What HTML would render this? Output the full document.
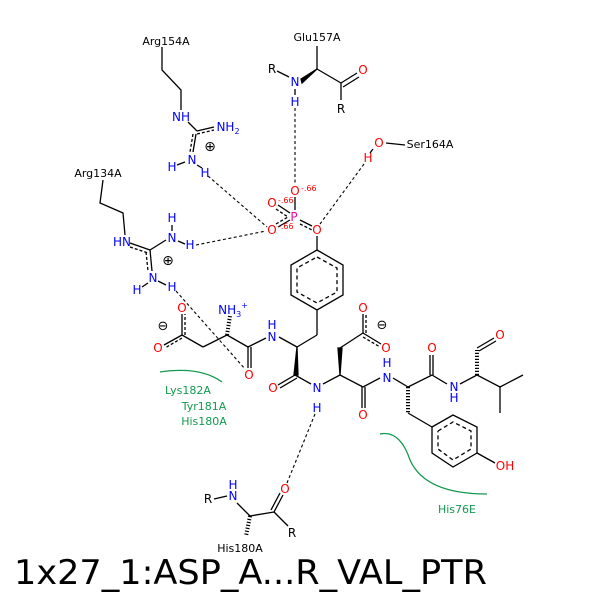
<!DOCTYPE html>
<html><head><style>
html,body{margin:0;padding:0;background:#fff}
svg{display:block}
text{font-family:"DejaVu Sans","Liberation Sans",sans-serif}
</style></head><body>
<svg width="600" height="600" viewBox="0 0 600 600" xmlns="http://www.w3.org/2000/svg">
<rect width="600" height="600" fill="#fff"/>
<g stroke="#000" stroke-width="1.3" fill="none">
<!-- Arg154 -->
<polyline points="162,47 162,70 181,90 181,110"/>
<line x1="188" y1="122" x2="197" y2="131"/>
<line x1="197" y1="131" x2="214" y2="127"/>
<line x1="197" y1="134" x2="214" y2="130" stroke-dasharray="3,2"/>
<line x1="196" y1="134" x2="193" y2="152"/>
<line x1="193" y1="134" x2="190" y2="152" stroke-dasharray="3,2"/>
<line x1="177" y1="165" x2="185" y2="162"/>
<line x1="197" y1="165" x2="202" y2="168"/>
<!-- Arg134 -->
<polyline points="103,180 100,203 123,213 125,235"/>
<line x1="130" y1="243" x2="150" y2="250"/>
<line x1="130" y1="247" x2="148" y2="253" stroke-dasharray="3,2"/>
<line x1="150" y1="250" x2="166" y2="240"/>
<line x1="150" y1="250" x2="152" y2="271"/>
<line x1="146" y1="252" x2="148" y2="271" stroke-dasharray="3,2"/>
<line x1="172" y1="231" x2="172" y2="225"/>
<line x1="178" y1="241" x2="185" y2="244"/>
<line x1="142" y1="287" x2="148" y2="283"/>
<line x1="158" y1="281" x2="166" y2="285"/>
<!-- Glu157 -->
<line x1="317" y1="46" x2="317" y2="69"/>
<line x1="277" y1="71" x2="289" y2="77"/>
<polygon points="301,79 317,69 302,83" fill="#000"/>
<line x1="317" y1="69" x2="341" y2="83"/>
<line x1="341" y1="83" x2="357" y2="73"/>
<line x1="343" y1="87" x2="359" y2="77"/>
<line x1="341" y1="83" x2="341" y2="100"/>
<line x1="295" y1="89" x2="295" y2="95"/>
<!-- Ser164 -->
<line x1="386" y1="143" x2="405" y2="145"/>
<line x1="373" y1="149" x2="370" y2="153"/>
<!-- phosphate -->
<line x1="278" y1="205" x2="290" y2="213"/>
<line x1="276" y1="209" x2="288" y2="217" stroke-dasharray="3,2"/>
<line x1="295" y1="197" x2="295" y2="210"/>
<line x1="278" y1="227" x2="290" y2="220"/>
<line x1="276" y1="224" x2="288" y2="217" stroke-dasharray="3,2"/>
<line x1="300" y1="220" x2="312" y2="226"/>
<line x1="300" y1="224" x2="312" y2="230" stroke-dasharray="3,2"/>
<line x1="317" y1="236" x2="317" y2="250"/>
<!-- phenyl ring -->
<polygon points="317,250 343,265 343,295 317,310 291,295 291,265"/>
<polyline points="317,257 337,268 337,292 317,303 297,292 297,268 317,257" stroke-dasharray="4,3"/>
<line x1="317" y1="310" x2="317" y2="335"/>
<line x1="317" y1="335" x2="297" y2="347"/>
<!-- backbone -->
<line x1="297" y1="347" x2="279" y2="337"/>
<line x1="266" y1="338" x2="248" y2="347"/>
<line x1="248" y1="347" x2="227" y2="335"/>
<line x1="248" y1="347" x2="248" y2="368"/>
<line x1="251" y1="347" x2="251" y2="368"/>
<line x1="227" y1="335" x2="203" y2="347"/>
<line x1="203" y1="347" x2="182" y2="335"/>
<line x1="182" y1="335" x2="182" y2="314"/>
<line x1="185" y1="335" x2="185" y2="314" stroke-dasharray="3,2"/>
<line x1="182" y1="335" x2="164" y2="345"/>
<line x1="182" y1="338" x2="165" y2="348" stroke-dasharray="3,2"/>
<g stroke-width="1"><line x1="227" y1="335" x2="230" y2="316" stroke-dasharray="1.2,1.8" stroke-width="4"/></g>
<polygon points="297,347 294,375 298,375" fill="#000"/>
<line x1="295" y1="375" x2="278" y2="385"/>
<line x1="297" y1="378" x2="280" y2="388"/>
<line x1="295" y1="375" x2="311" y2="384"/>
<line x1="323" y1="384" x2="340" y2="375"/>
<polygon points="340,375 338,348 342,348" fill="#000"/>
<line x1="340" y1="348" x2="363" y2="333"/>
<line x1="363" y1="333" x2="363" y2="314"/>
<line x1="366" y1="333" x2="366" y2="314" stroke-dasharray="3,2"/>
<line x1="363" y1="333" x2="381" y2="344"/>
<line x1="363" y1="337" x2="380" y2="347" stroke-dasharray="3,2"/>
<line x1="340" y1="375" x2="363" y2="387"/>
<line x1="362" y1="387" x2="362" y2="408"/>
<line x1="365" y1="387" x2="365" y2="408"/>
<line x1="363" y1="387" x2="380" y2="378"/>
<line x1="393" y1="378" x2="408" y2="387"/>
<line x1="408" y1="387" x2="432" y2="375"/>
<line x1="430" y1="375" x2="430" y2="355"/>
<line x1="433" y1="375" x2="433" y2="355"/>
<line x1="432" y1="375" x2="447" y2="384"/>
<line x1="460" y1="384" x2="477" y2="375"/>
<line x1="477" y1="375" x2="500" y2="387"/>
<line x1="500" y1="387" x2="523" y2="375"/>
<line x1="500" y1="387" x2="500" y2="413"/>
<line x1="408" y1="387" x2="408" y2="413" stroke-dasharray="1.2,1.8" stroke-width="4"/>
<line x1="477" y1="375" x2="477" y2="350" stroke-dasharray="1.2,1.8" stroke-width="4"/>
<line x1="477" y1="348" x2="494" y2="338"/>
<line x1="479" y1="351" x2="496" y2="341"/>
<line x1="408" y1="413" x2="432" y2="427"/>
<polygon points="432,427 453,415 477,427 477,453 453,467 432,453"/>
<polyline points="438,431 453,422 471,431 471,449 453,460 438,449 438,431" stroke-dasharray="4,3"/>
<line x1="477" y1="453" x2="495" y2="463"/>
<!-- His180 bottom -->
<line x1="214" y1="499" x2="227" y2="496"/>
<line x1="237" y1="503" x2="250" y2="516"/>
<line x1="250" y1="516" x2="274" y2="512"/>
<line x1="274" y1="512" x2="283" y2="495"/>
<line x1="271" y1="510" x2="280" y2="493"/>
<line x1="274" y1="512" x2="288" y2="526"/>
<line x1="250" y1="516" x2="246" y2="536" stroke-dasharray="1.2,1.8" stroke-width="4"/>
</g>
<!-- hbonds -->
<g stroke="#000" stroke-width="1.1" stroke-dasharray="3,2.5" fill="none">
<line x1="295" y1="108" x2="295" y2="184"/>
<line x1="364" y1="164" x2="320" y2="224"/>
<line x1="208" y1="176" x2="267" y2="227"/>
<line x1="196" y1="245" x2="266" y2="231"/>
<line x1="176" y1="291" x2="245" y2="369"/>
<line x1="315" y1="414" x2="287" y2="483"/>
</g>
<!-- green arcs -->
<g stroke="#129a4e" stroke-width="1.3" fill="none">
<path d="M160,372 Q200,366 222,382"/>
<path d="M380,434 Q400,430 410,460 Q425,494 487,494"/>
</g>
<g font-size="11" fill="#000" text-anchor="middle">
<text x="166" y="45">Arg154A</text>
<text x="98" y="177">Arg134A</text>
<text x="317" y="41">Glu157A</text>
<text x="430" y="148">Ser164A</text>
<text x="240" y="552">His180A</text>
<text x="272" y="73" font-size="12">R</text>
<text x="341" y="113" font-size="12">R</text>
<text x="208" y="503" font-size="12">R</text>
<text x="292" y="537" font-size="12">R</text>
<text x="210" y="151" font-size="14">⊕</text>
<text x="168" y="265" font-size="14">⊕</text>
<text x="163" y="330" font-size="13">⊖</text>
<text x="382" y="329" font-size="13">⊖</text>
</g>
<g font-size="12" fill="#0000ff" text-anchor="middle">
<text x="181" y="121">NH</text>
<text x="228" y="131">NH<tspan font-size="8" dy="3">2</tspan></text>
<text x="192" y="164">N</text>
<text x="172" y="171">H</text>
<text x="205" y="177">H</text>
<text x="122" y="246">HN</text>
<text x="172" y="222">H</text>
<text x="172" y="242">N</text>
<text x="190" y="249">H</text>
<text x="153" y="282">N</text>
<text x="137" y="294">H</text>
<text x="172" y="291">H</text>
<text x="295" y="86">N</text>
<text x="295" y="106">H</text>
<text x="233" y="314">NH<tspan font-size="8" dy="3">3</tspan><tspan font-size="8" dy="-9">+</tspan></text>
<text x="272" y="341">N</text>
<text x="272" y="329">H</text>
<text x="317" y="392">N</text>
<text x="317" y="412">H</text>
<text x="387" y="382">N</text>
<text x="387" y="367">H</text>
<text x="454" y="391">N</text>
<text x="454" y="402">H</text>
<text x="233" y="500">N</text>
<text x="233" y="489">H</text>
</g>
<g font-size="12" fill="#ff0000" text-anchor="middle">
<text x="363" y="74">O</text>
<text x="379" y="147">O</text>
<text x="368" y="162">H</text>
<text x="295" y="195">O</text>
<text x="272" y="207">O</text>
<text x="272" y="234">O</text>
<text x="317" y="234">O</text>
<text x="182" y="312">O</text>
<text x="158" y="352">O</text>
<text x="249" y="379">O</text>
<text x="273" y="392">O</text>
<text x="363" y="312">O</text>
<text x="386" y="352">O</text>
<text x="363" y="419">O</text>
<text x="432" y="352">O</text>
<text x="500" y="339">O</text>
<text x="505" y="470">OH</text>
<text x="285" y="493">O</text>
</g>
<g font-size="8" fill="#ff0000">
<text x="301" y="191">-.66</text>
<text x="278" y="203">-.66</text>
<text x="278" y="229">-.66</text>
</g>
<text x="294" y="221" font-size="12" fill="#e0109f" text-anchor="middle">P</text>
<g font-size="11" fill="#129a4e" text-anchor="middle">
<text x="188" y="394">Lys182A</text>
<text x="204" y="410">Tyr181A</text>
<text x="204" y="425">His180A</text>
<text x="457" y="513">His76E</text>
</g>
<text x="14" y="584" font-size="34" fill="#000" textLength="473" lengthAdjust="spacingAndGlyphs">1x27_1:ASP_A...R_VAL_PTR</text>
</svg>
</body></html>
